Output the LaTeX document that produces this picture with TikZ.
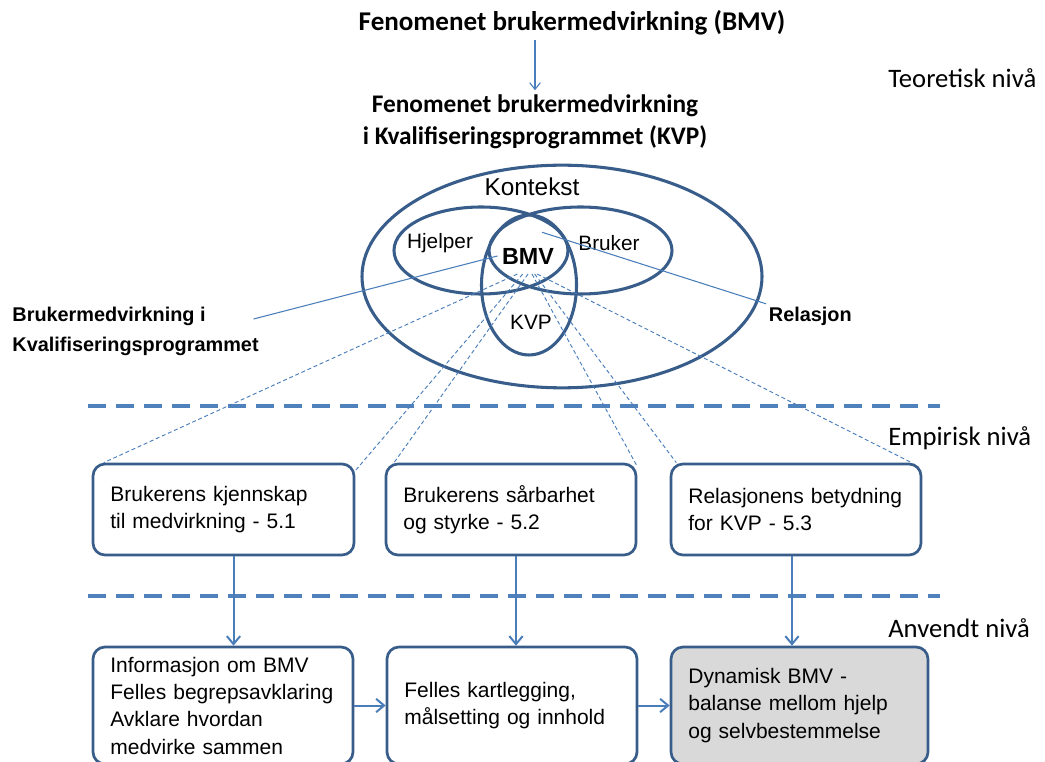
\documentclass[tikz,border=0pt]{standalone}
\usepackage{fontspec}
\setmainfont{Liberation Sans}
\newfontfamily\calibri{Carlito}
\usetikzlibrary{shapes.geometric,arrows.meta}
\definecolor{ramme}{HTML}{385D8A}
\definecolor{linje}{HTML}{4A7EBB}
\definecolor{skille}{HTML}{4F81BD}
\definecolor{graa}{HTML}{D9D9D9}
\begin{document}
\begin{tikzpicture}[x=0.75pt, y=-0.75pt,
		tittel/.style={font=\calibri\bfseries\fontsize{20.3}{24}\selectfont, align=center},
		niva/.style={font=\calibri\fontsize{20}{24}\selectfont, anchor=west, inner sep=0pt},
		sirkel/.style={ellipse, draw=ramme, line width=2.3pt, inner sep=0pt},
		etikett/.style={font=\fontsize{15.6}{18}\selectfont, inner sep=2pt},
		boks/.style={draw=ramme, fill=white, line width=2pt, rounded corners=9pt, align=left, inner xsep=13pt, font=\fontsize{15.75}{20.5}\selectfont},
		pil/.style={draw=linje, line width=1.5pt, -{Straight Barb[length=6pt,width=10pt]}},
		tynn/.style={draw=linje, line width=0.8pt},
		vifte/.style={draw=linje, line width=0.7pt, dash pattern=on 3pt off 2pt},
		skillelinje/.style={draw=skille, line width=3pt, dash pattern=on 13.5pt off 7.5pt}
		]
	\clip (0,0) rectangle (1045,762);

	\node [tittel] (t1) at (572,23) {Fenomenet brukermedvirkning (BMV)};
	\node [tittel, font=\calibri\bfseries\fontsize{19}{24}\selectfont] (t2) at (535,122) {Fenomenet brukermedvirkning\\i Kvalifiseringsprogrammet (KVP)};
	\draw [pil, line width=0.8pt, -{Straight Barb[length=5pt,width=8pt]}] (t1.south -| t2.north) -- (t2.north);

	\node [niva] (teoretisk) at (888,78) {Teoretisk nivå};
	\node [niva] (empirisk) at (888,438) {Empirisk nivå};
	\node [niva] (anvendt) at (888,628) {Anvendt nivå};

	\node [sirkel, minimum width=300pt, minimum height=167pt] (kontekst) at (562,276.5) {};
	\node [sirkel, minimum width=130.5pt, minimum height=65.25pt] (hjelper) at (481,250.5) {};
	\node [sirkel, minimum width=137.25pt, minimum height=65.25pt] (bruker) at (580.5,250.5) {};
	\node [sirkel, minimum width=71.25pt, minimum height=105pt] (kvp) at (529,285) {};

	\node [font=\fontsize{18.3}{22}\selectfont] (kontekstnavn) at (532,187) {Kontekst};
	\node [etikett] (hjelpernavn) at (440,243) {Hjelper};
	\node [etikett] (brukernavn) at (609,243) {Bruker};
	\node [etikett] (kvpnavn) at (531,322) {KVP};
	\node [font=\bfseries\fontsize{17.5}{20}\selectfont] (bmv) at (528,256) {BMV};

	\node [font=\bfseries\fontsize{14.9}{22.5}\selectfont, align=left, anchor=west, inner sep=2pt] (bmvkvp) at (9.5,331) {Brukermedvirkning i\\Kvalifiseringsprogrammet};
	\node [font=\bfseries\fontsize{14.9}{18}\selectfont, anchor=west, inner sep=2pt] (relasjon) at (766,316) {Relasjon};
	\draw [tynn] ([shift={(-8,-12)}]bmvkvp.east) -- (bmv.west);
	\draw [tynn] ([shift={(14,-11)}]bmv.north) -- (relasjon.north west);

	\draw [skillelinje] (88,406) -- (940,406);
	\draw [skillelinje] (88,596) -- (940,596);

	\node [boks, text width=169.75pt, minimum height=68.25pt] (r1a) at (223.5,509.5) {Brukerens kjennskap\\til medvirkning - 5.1};
	\node [boks, text width=161.5pt, minimum height=68.25pt] (r1b) at (511,509.5) {Brukerens sårbarhet\\og styrke - 5.2};
	\node [boks, text width=161.5pt, minimum height=68.25pt] (r1c) at (796,509.5) {Relasjonens betydning\\for KVP - 5.3};

	\node [boks, text width=169pt, minimum height=87.75pt] (r2a) at (223,705.5) {Informasjon om BMV\\Felles begrepsavklaring\\Avklare hvordan\\medvirke sammen};
	\node [boks, text width=161.5pt, minimum height=87.75pt] (r2b) at (512,705.5) {Felles kartlegging,\\målsetting og innhold};
	\node [boks, fill=graa, text width=166.75pt, minimum height=87.75pt] (r2c) at (799.5,705.5) {Dynamisk BMV -\\balanse mellom hjelp\\og selvbestemmelse};

	\coordinate (midt) at ([yshift=-4pt]bmv.south);
	\draw [vifte] ([xshift=-8pt]midt) -- ([xshift=9pt]r1a.north west);
	\draw [vifte] ([xshift=-4pt]midt) -- ([yshift=-6pt]r1a.north east);
	\draw [vifte] (midt) -- ([xshift=7pt]r1b.north west);
	\draw [vifte] ([xshift=3pt]midt) -- ([yshift=-3pt]r1b.north east);
	\draw [vifte] ([xshift=5pt]midt) -- ([xshift=5pt]r1c.north west);
	\draw [vifte] ([xshift=7pt]midt) -- ([xshift=-8pt]r1c.north east);

	\foreach \a/\b/\s in {r1a/r2a/7.5pt, r1b/r2b/3.75pt, r1c/r2c/-3pt}
		\draw [pil] ([xshift=\s]\a.south) -- ([xshift=\s]\a.south |- \b.north);
	\draw [pil] (r2a) -- (r2b);
	\draw [pil] (r2b) -- (r2c);
	\end{tikzpicture}
\end{document}
